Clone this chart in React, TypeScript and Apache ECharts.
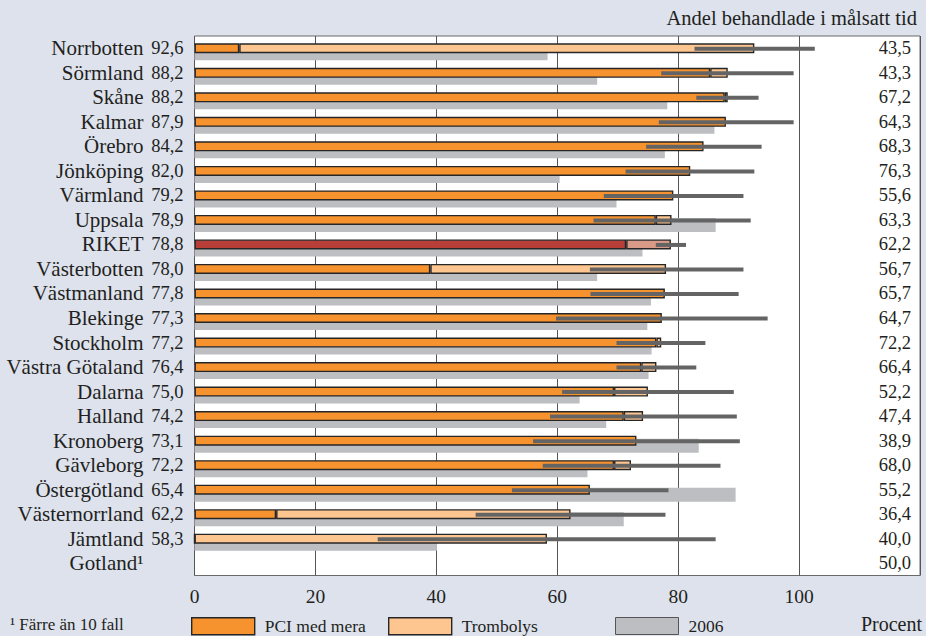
import React, { useEffect, useRef } from 'react';
import * as echarts from 'echarts';

const regions = [
  'Norrbotten', 'Sörmland', 'Skåne', 'Kalmar', 'Örebro', 'Jönköping', 'Värmland',
  'Uppsala', 'RIKET', 'Västerbotten', 'Västmanland', 'Blekinge', 'Stockholm',
  'Västra Götaland', 'Dalarna', 'Halland', 'Kronoberg', 'Gävleborg', 'Östergötland',
  'Västernorrland', 'Jämtland', 'Gotland¹',
];
// total share (PCI med mera + Trombolys), %
const totals = [92.6, 88.2, 88.2, 87.9, 84.2, 82.0, 79.2, 78.9, 78.8, 78.0, 77.8, 77.3, 77.2, 76.4, 75.0, 74.2, 73.1, 72.2, 65.4, 62.2, 58.3, null];
// PCI med mera part, %
const pci = [7.4, 85.3, 87.7, 87.9, 84.2, 82.0, 79.2, 76.3, 71.4, 39.0, 77.8, 77.3, 76.4, 73.9, 69.4, 71.0, 73.1, 69.4, 65.4, 13.5, 0, null];
// 2006 value, %
const y2006 = [58.4, 66.6, 78.2, 86.0, 77.8, 60.4, 69.8, 86.2, 74.1, 66.6, 75.5, 74.9, 75.6, 75.1, 63.7, 68.1, 83.4, 65.0, 89.5, 71.0, 40.1, null];
// confidence interval
const ciLow = [82.7, 77.2, 83.0, 76.8, 74.7, 71.3, 67.7, 66.0, 76.3, 65.4, 65.5, 59.8, 69.8, 69.8, 60.8, 58.8, 56.0, 57.6, 52.5, 46.5, 30.3, null];
const ciHigh = [102.6, 99.1, 93.3, 99.1, 93.8, 92.6, 90.8, 92.0, 81.3, 90.8, 90.0, 94.8, 84.5, 83.0, 89.2, 89.7, 90.2, 87.0, 78.4, 77.9, 86.2, null];
// "Andel behandlade i målsatt tid" column
const targetShare = ['43,5', '43,3', '67,2', '64,3', '68,3', '76,3', '55,6', '63,3', '62,2', '56,7', '65,7', '64,7', '72,2', '66,4', '52,2', '47,4', '38,9', '68,0', '55,2', '36,4', '40,0', '50,0'];

const FONT = 'Liberation Serif, serif';
const TXT = '#231f20';
const fmt = (v: number | null) => (v == null ? '' : v.toFixed(1).replace('.', ','));

export default function App() {
  const ref = useRef<HTMLDivElement>(null);
  useEffect(() => {
    const chart = echarts.init(ref.current!, null, { renderer: 'svg' });
    const rik = regions.indexOf('RIKET');
    const pciData = pci.map((v, i) =>
      v == null ? '-' : i === rik ? { value: v, itemStyle: { color: '#b83f38' } } : v
    );
    const tromData = totals.map((t, i) => {
      if (t == null || pci[i] == null) return '-';
      const d = +(t - (pci[i] as number)).toFixed(1);
      if (d <= 0) return '-';
      return i === rik ? { value: d, itemStyle: { color: '#d99b87' } } : d;
    });
    const errData = regions
      .map((_, i) => (ciLow[i] == null ? null : [i, ciLow[i], ciHigh[i]]))
      .filter((d) => d != null);

    const barBorder = { borderColor: '#262626', borderWidth: 1.4 };
    const legendText = { fontFamily: FONT, fontSize: 17.5, color: TXT, padding: [0, 0, 0, 5] };

    chart.setOption({
      animation: false,
      backgroundColor: '#dde2ed',
      title: {
        text: 'Andel behandlade i målsatt tid',
        right: 9,
        top: 7,
        padding: 0,
        textStyle: { fontFamily: FONT, fontSize: 20.5, fontWeight: 'normal', color: TXT },
      },
      legend: [
        { data: ['PCI med mera'], left: 191, top: 617, padding: 0, itemWidth: 63, itemHeight: 17, icon: 'rect', textStyle: legendText, itemStyle: { borderColor: '#262626', borderWidth: 1.4 } },
        { data: ['Trombolys'], left: 388, top: 617, padding: 0, itemWidth: 63, itemHeight: 17, icon: 'rect', textStyle: legendText, itemStyle: { borderColor: '#262626', borderWidth: 1.4 } },
        { data: ['2006'], left: 615, top: 617, padding: 0, itemWidth: 63, itemHeight: 17, icon: 'rect', textStyle: legendText, itemStyle: { borderColor: '#555', borderWidth: 1 } },
      ],
      grid: {
        left: 194.5,
        right: 6,
        top: 36,
        bottom: 60.5,
        show: true,
        backgroundColor: '#ffffff',
        borderColor: '#6a6a6a',
        borderWidth: 1,
      },
      xAxis: {
        type: 'value',
        min: 0,
        max: 120,
        interval: 20,
        axisLine: { show: false },
        axisTick: { show: false },
        splitLine: { show: true, lineStyle: { color: '#555', width: 1 } },
        axisLabel: {
          margin: 11,
          fontFamily: FONT,
          fontSize: 19.5,
          color: TXT,
          formatter: (v: number) => (v > 100 ? '' : String(v)),
        },
      },
      yAxis: [
        {
          type: 'category',
          data: regions,
          inverse: true,
          axisLine: { show: false },
          axisTick: { show: false },
          splitLine: { show: false },
          axisLabel: {
            interval: 0,
            margin: 11,
            formatter: (v: string, i: number) => `{n|${v}}{v|${fmt(totals[i])}}`,
            rich: {
              n: { fontFamily: FONT, fontSize: 21, color: TXT },
              v: { fontFamily: FONT, fontSize: 18.5, color: TXT, width: 40, align: 'right' },
            },
          },
        },
        {
          type: 'category',
          data: regions,
          inverse: true,
          position: 'right',
          axisLine: { show: false },
          axisTick: { show: false },
          splitLine: { show: false },
          axisLabel: {
            interval: 0,
            inside: true,
            margin: 9,
            fontFamily: FONT,
            fontSize: 18.5,
            color: TXT,
            formatter: (_v: string, i: number) => targetShare[i],
          },
        },
      ],
      series: [
        {
          name: 'spacer',
          type: 'bar',
          yAxisIndex: 1,
          barWidth: 10,
          barGap: 0,
          silent: true,
          data: regions.map(() => '-'),
        },
        {
          name: '2006',
          type: 'bar',
          yAxisIndex: 1,
          barWidth: 14,
          barGap: 0,
          z: 1,
          itemStyle: { color: '#bdbec2', borderColor: '#555', borderWidth: 0 },
          data: y2006.map((v) => (v == null ? '-' : v)),
        },
        {
          name: 'PCI med mera',
          type: 'bar',
          stack: 'total',
          yAxisIndex: 0,
          barWidth: 10,
          z: 3,
          itemStyle: { color: '#f7932f', ...barBorder },
          data: pciData,
        },
        {
          name: 'Trombolys',
          type: 'bar',
          stack: 'total',
          yAxisIndex: 0,
          barWidth: 10,
          z: 3,
          itemStyle: { color: '#fdc690', ...barBorder },
          data: tromData,
        },
        {
          name: 'ci',
          type: 'custom',
          yAxisIndex: 0,
          z: 10,
          silent: true,
          encode: { x: [1, 2], y: 0 },
          data: errData,
          renderItem: (_p: any, api: any) => {
            const i = api.value(0);
            const a = api.coord([api.value(1), i]);
            const b = api.coord([api.value(2), i]);
            return {
              type: 'rect',
              shape: { x: a[0], y: a[1] - 1.5, width: b[0] - a[0], height: 4 },
              style: { fill: '#646464' },
            };
          },
        },
      ],
      graphic: [
        {
          type: 'text',
          left: 10,
          top: 616,
          style: { text: '¹ Färre än 10 fall', font: `17px ${FONT}`, fill: TXT },
        },
        {
          type: 'text',
          right: 4,
          top: 614,
          style: { text: 'Procent', font: `20px ${FONT}`, fill: TXT },
        },
      ],
    });
    return () => chart.dispose();
  }, []);
  return (
    <div
      ref={ref}
      style={{ position: 'absolute', left: 0, top: 0, width: 926, height: 636, background: '#dde2ed' }}
    />
  );
}
